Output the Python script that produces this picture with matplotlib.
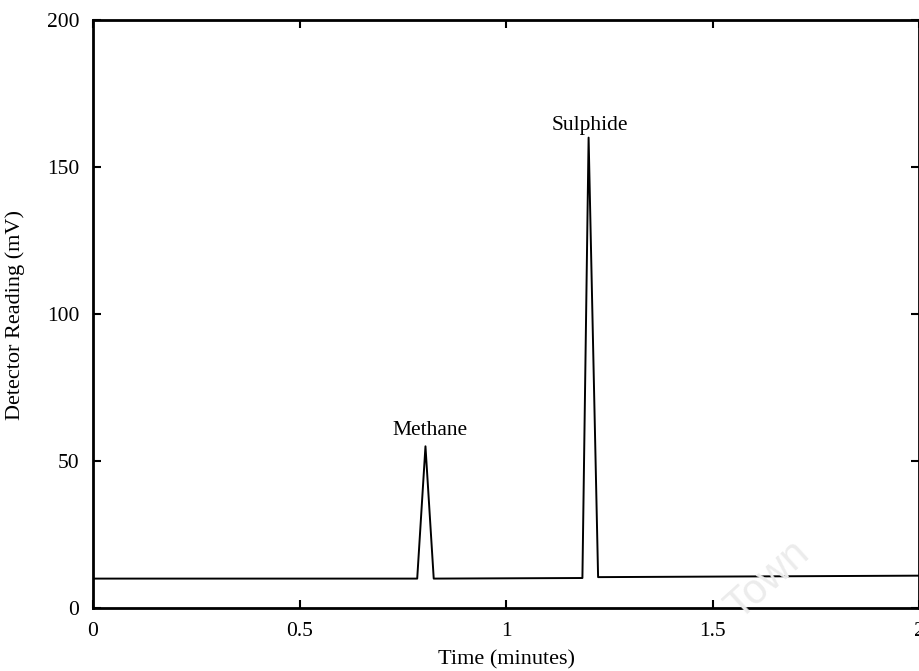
import matplotlib.pyplot as plt

# detector trace (piecewise linear peaks on a flat baseline)
time_min = [0.0, 0.785, 0.805, 0.825, 1.185, 1.200, 1.223, 2.0]
reading_mv = [10.0, 10.0, 55.0, 10.0, 10.2, 160.0, 10.5, 11.0]

# peak annotations
peak_names = ['Methane', 'Sulphide']
peak_x = [0.817, 1.202]
peak_y = [60.5, 164.0]

xticks = [0, 0.5, 1, 1.5, 2]
xticklabels = ['0', '0.5', '1', '1.5', '2']
yticks = [0, 50, 100, 150, 200]

plt.rcParams['font.family'] = ['Liberation Serif', 'DejaVu Serif']

fig = plt.figure(figsize=(9.2, 6.71), dpi=100)
ax = fig.add_axes([93 / 920, 63 / 671, 826 / 920, 588 / 671])

ax.plot(time_min, reading_mv, color='black', linewidth=1.4)

for name, x, y in zip(peak_names, peak_x, peak_y):
    ax.text(x, y, name, ha='center', va='center', fontsize=15.5)

ax.set_xlim(0, 2)
ax.set_ylim(0, 200)
ax.set_xticks(xticks)
ax.set_xticklabels(xticklabels)
ax.set_yticks(yticks)
ax.tick_params(direction='in', length=6, width=1.5, top=True, right=True,
               labelsize=15.5, pad=10)
for s in ax.spines.values():
    s.set_linewidth(2.0)

ax.set_xlabel('Time (minutes)', fontsize=16)
ax.set_ylabel('Detector Reading (mV)', fontsize=16)
ax.xaxis.label.set_va('center')
ax.yaxis.label.set_va('center')
ax.xaxis.set_label_coords(0.5, -0.0884)
ax.yaxis.set_label_coords(-0.094, 0.498)

# faint watermark in the lower right
fig.text(0.835, 0.135, 'Town', fontsize=30, color='#ececec', rotation=42,
         ha='center', va='center', family='Liberation Sans', zorder=0)

fig.savefig('out.png', dpi=100)
